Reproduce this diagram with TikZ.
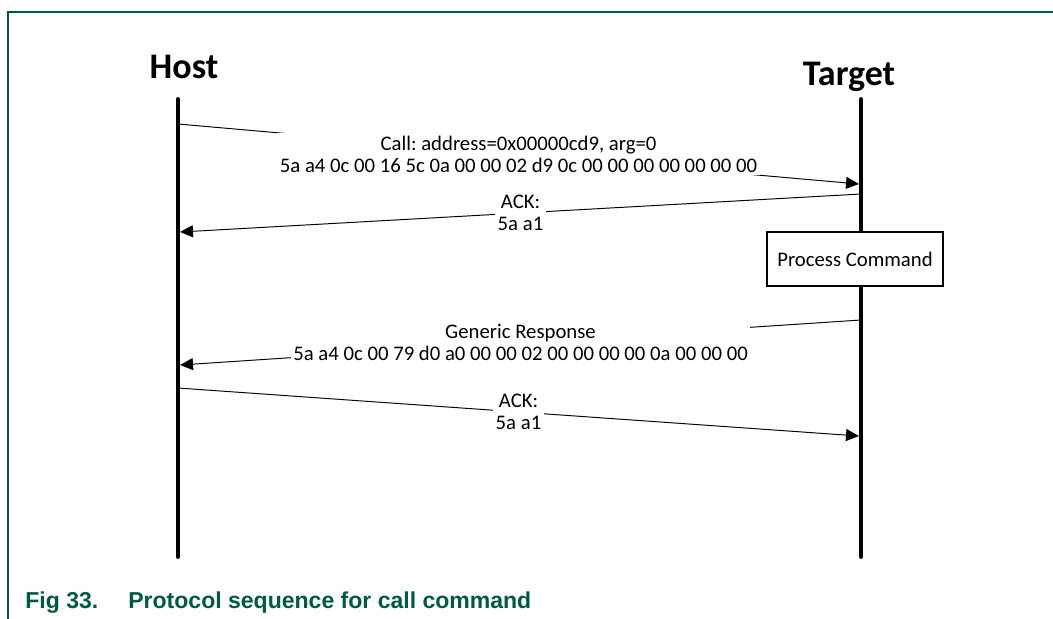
\documentclass[tikz,border=0pt]{standalone}
\usepackage{fontspec}
\usepackage{xcolor}
\usepackage{tikz}
\usetikzlibrary{arrows.meta, positioning, calc}
\setmainfont{Carlito}
\newfontfamily\capfont{Liberation Sans}
\definecolor{figgreen}{RGB}{0,90,66}
\frenchspacing

\begin{document}
\begin{tikzpicture}[>={Triangle[length=0.26cm, width=0.24cm]}, every node/.style={font=\fontsize{11.8}{12.5}\selectfont}]
    \tikzstyle{lifeline}=[line width=2.2pt, line cap=round]
    \tikzstyle{actor}=[font=\fontsize{20.5}{24}\selectfont\bfseries, anchor=base, inner sep=0pt]
    \tikzstyle{msg}=[->, line width=0.55pt]
    \tikzstyle{msglabel}=[fill=white, align=center, inner sep=1.5pt]
    \tikzstyle{task}=[rectangle, draw, line width=0.8pt, fill=white, minimum width=3.52cm, minimum height=1.08cm]

    \useasboundingbox (0,0) rectangle (21.06,-12.38);

    % frame
    \draw[figgreen, line width=0.85pt] (0.16,-12.38) -- (0.16,-0.24) -- (21.06,-0.24);

    \node[actor] (host) at (3.68,-1.56) {Host};
    \node[actor] (target) at (16.98,-1.70) {Target};

    \coordinate (hosttop) at (3.56,-1.98);
    \coordinate (hostbot) at (3.56,-11.14);
    \coordinate (targettop) at (17.22,-1.98);
    \coordinate (targetbot) at (17.22,-11.14);

    \draw[lifeline] (hosttop) -- (hostbot);
    \draw[lifeline] (targettop) -- (targetbot);

    \node[task] (process) at (17.10,-5.18) {Process Command};

    \coordinate (callsrc) at (3.56,-2.48);
    \coordinate (calldst) at (17.18,-3.68);
    \coordinate (acksrc) at (17.22,-3.88);
    \coordinate (ackdst) at (3.60,-4.64);
    \coordinate (respsrc) at (17.22,-6.40);
    \coordinate (respdst) at (3.60,-7.30);
    \coordinate (ackbsrc) at (3.56,-7.76);
    \coordinate (ackbdst) at (17.18,-8.72);

    \draw[msg] (callsrc) -- node[msglabel] (call) {Call: address=0x00000cd9, arg=0\\5a a4 0c 00 16 5c 0a 00 00 02 d9 0c 00 00 00 00 00 00 00} (calldst);
    \draw[msg] (acksrc) -- node[msglabel] (ack) {ACK:\\5a a1} (ackdst);
    \draw[msg] (respsrc) -- node[msglabel] (resp) {Generic Response\\5a a4 0c 00 79 d0 a0 00 00 02 00 00 00 00 0a 00 00 00} (respdst);
    \draw[msg] (ackbsrc) -- node[msglabel] (ackb) {ACK:\\5a a1} (ackbdst);

    \node[anchor=base west, inner sep=0pt, text=figgreen, font=\capfont\bfseries\fontsize{13.1}{15}\selectfont] (caption) at (0.50,-12.16) {\makebox[2.06cm][l]{Fig 33.}Protocol sequence for call command};
\end{tikzpicture}
\end{document}
